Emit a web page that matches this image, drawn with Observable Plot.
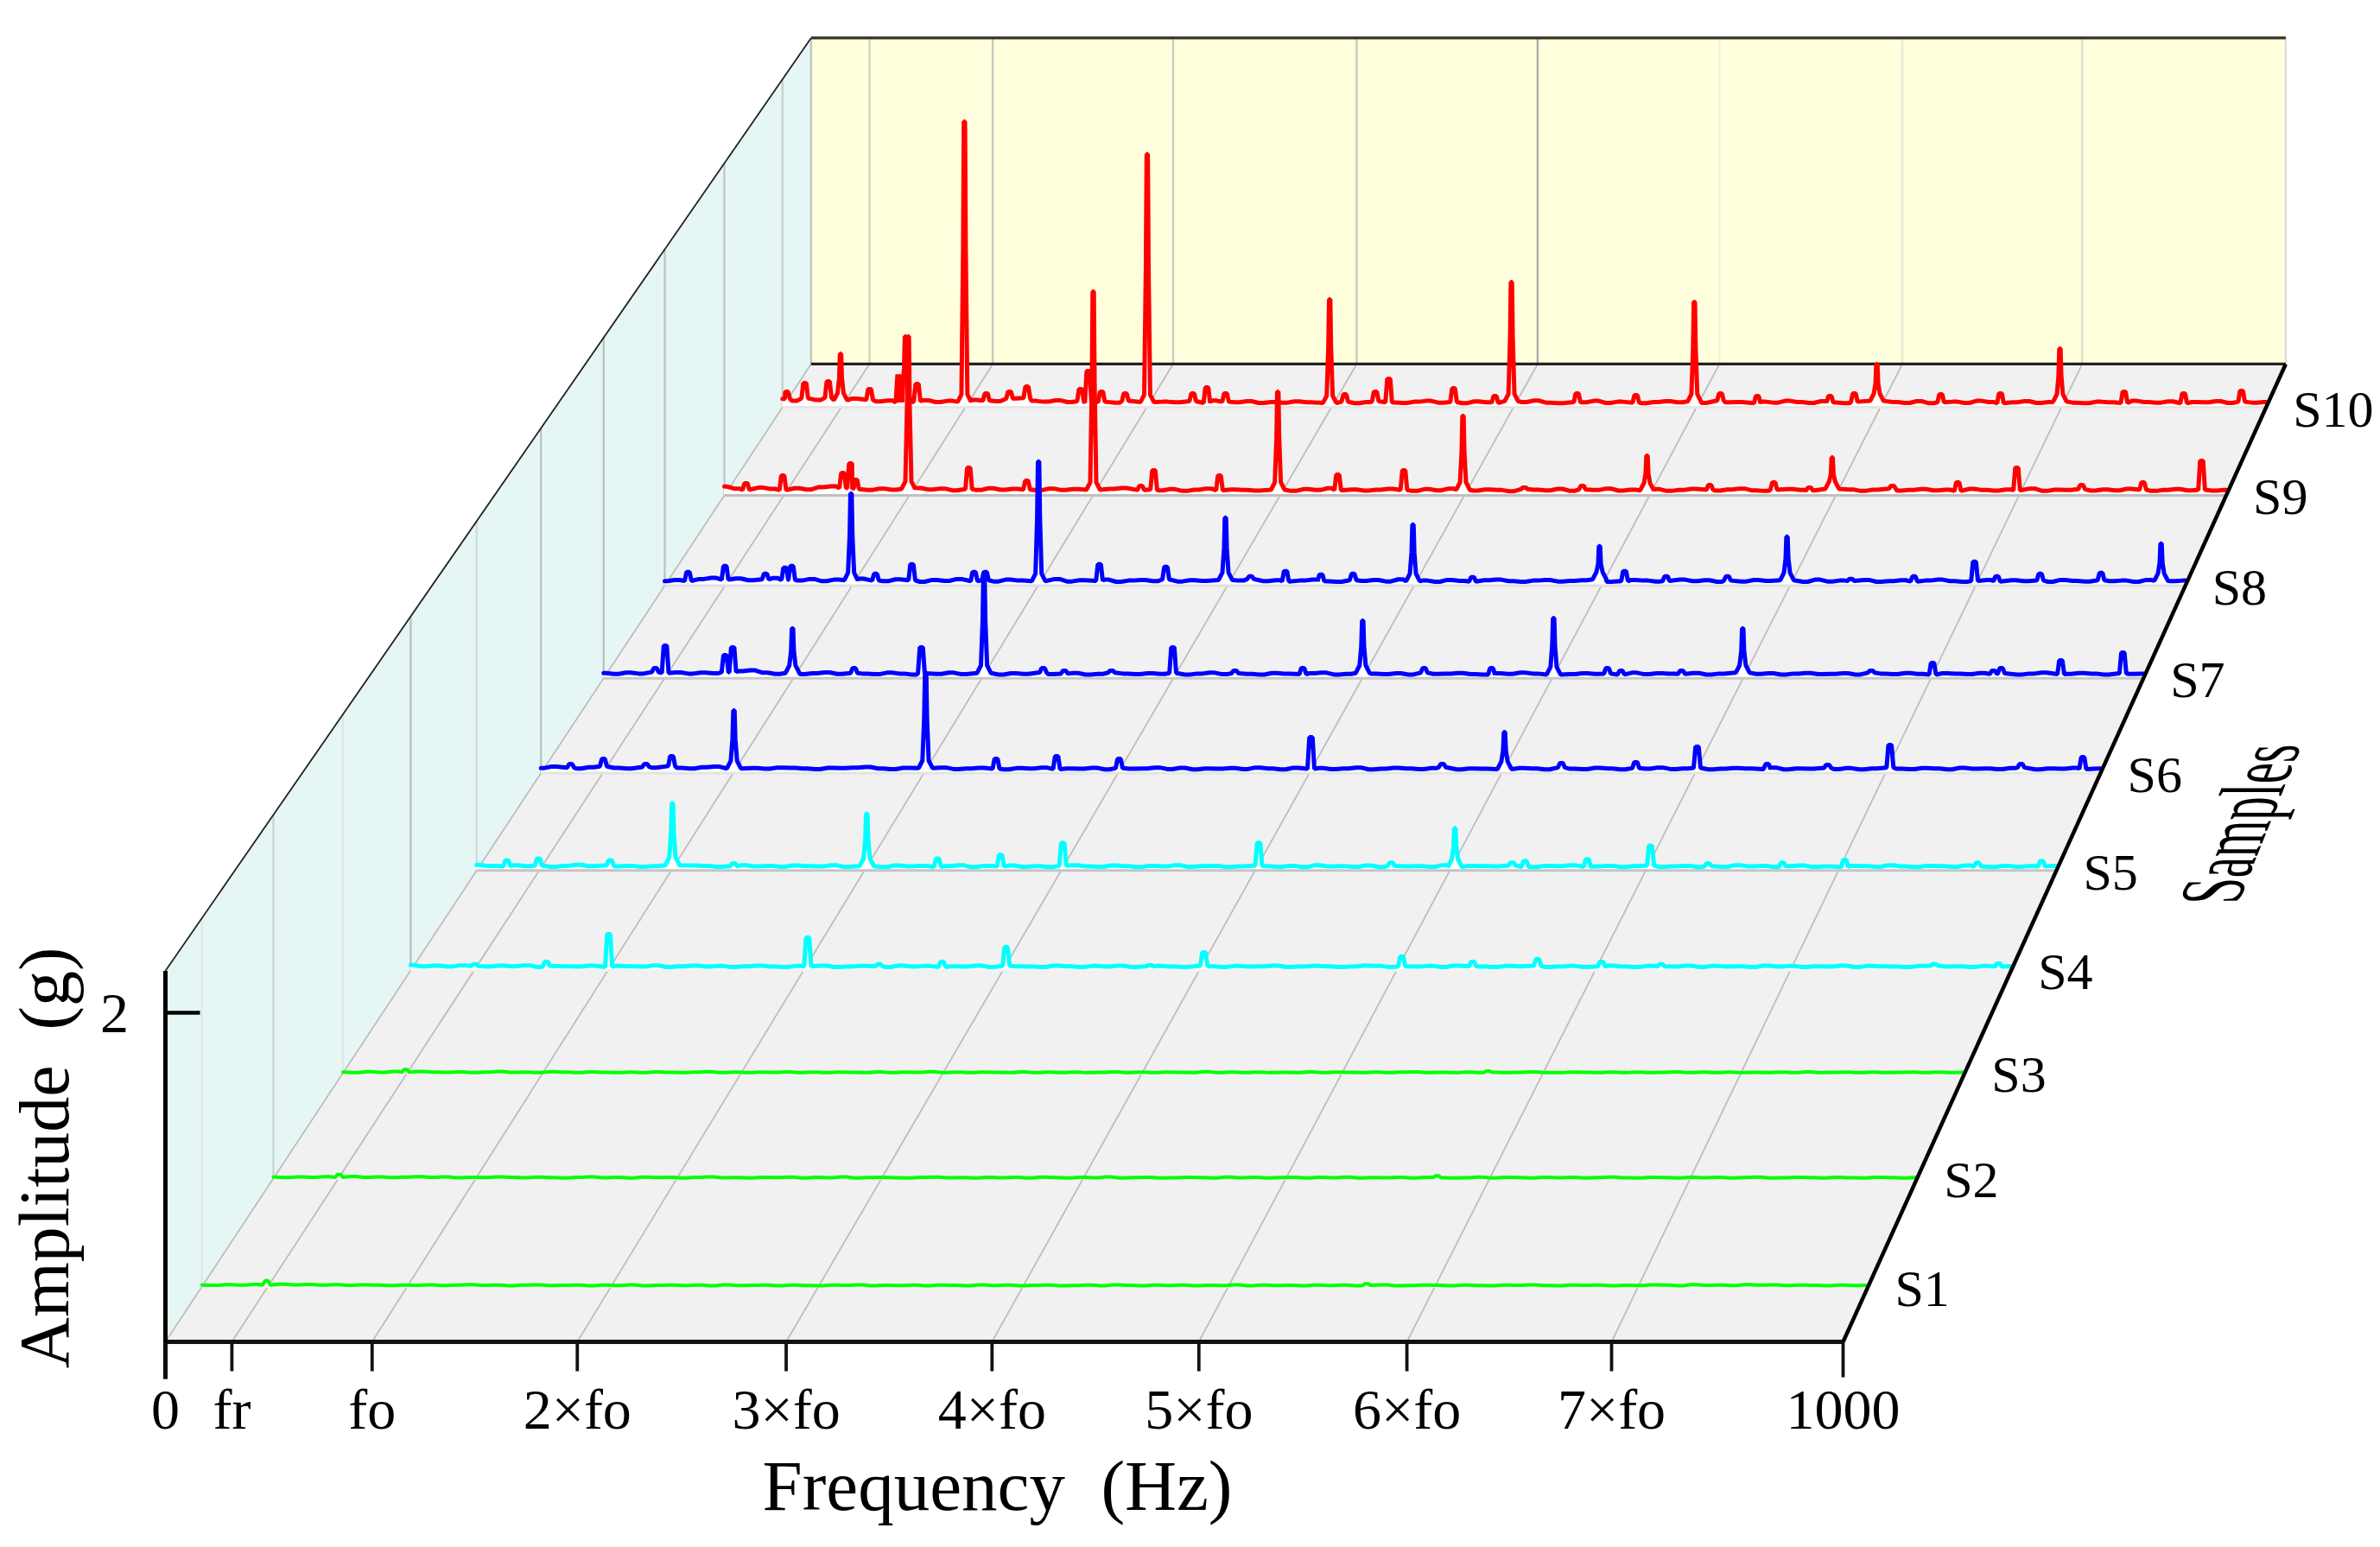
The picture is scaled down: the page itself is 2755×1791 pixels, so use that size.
<!DOCTYPE html>
<html>
<head>
<meta charset="utf-8">
<script src="https://cdn.jsdelivr.net/npm/d3@7"></script>
<script src="https://cdn.jsdelivr.net/npm/@observablehq/plot@0.6"></script>
<style>
html,body{margin:0;padding:0;background:#fff}
svg text{white-space:pre}
</style>
</head>
<body>
<div id="chart"></div>
<script>
// ---------- categories and tick labels ----------
const sampleNames = ["S1","S2","S3","S4","S5","S6","S7","S8","S9","S10"];
const tickLabels = ["0","fr","fo","2×fo","3×fo","4×fo","5×fo","6×fo","7×fo","1000"];
const tickFreqs = [0,39.6,123.2,245.5,370,492.7,616,740,862,1000];

// ---------- peaks: frequency (Hz), amplitude (g) ----------
const s10PeakF = [2.8,15,30.8,39.1,58.7,78.5,82.8,90.7,122.6,137.3,153,164.7,200.8,206,215,231,245.8,276.5,286,298.6,368.8,379,399.6,408.6,452.3,480.2,491.3,535.6,575.2,614.6,632.2,657,706,722.4,737.6,780.7,820.9,861,904.3,944.4,983.4];
const s10PeakA = [.107,.166,.178,.368,.125,.226,.487,.16,1.964,.095,.107,.142,.125,.249,.107,.095,1.739,.095,.136,.095,.742,.089,.107,.196,.131,.077,.861,.095,.083,.724,.095,.077,.077,.095,.297,.089,.095,.404,.107,.095,.113];
const s9PeakF = [14.4,38.9,78.8,84,87.4,122.5,162.7,201.3,245.6,277.3,285.9,329.6,368.5,408.4,452.4,491.8,532.6,571.2,614.3,656.1,698.7,722.5,737.6,777.7,821.2,860.5,903.7,944.5,983.6];
const s9PeakA = [.082,.135,.152,.217,.106,1.079,.188,.1,1.384,.065,.17,.135,.704,.141,.17,.54,.053,.065,.27,.07,.088,.053,.258,.065,.088,.188,.07,.088,.235];
const s8PeakF = [15.3,39.6,66.2,79,83.5,122.5,138.6,162.5,203.4,210.8,245.8,285.8,329.5,368.7,385.2,408.2,431.5,452.6,492,531.2,614.7,631.2,658.5,698.8,738,780,821.5,861.3,876,904.5,944.5,984];
const s8PeakA = [.091,.131,.079,.12,.131,.618,.079,.143,.091,.091,.832,.143,.126,.456,.062,.097,.074,.079,.409,.056,.265,.097,.062,.062,.328,.045,.062,.16,.062,.079,.085,.282];
const s7PeakF = [33.5,40,78.8,83.8,122.6,162.6,206.3,247,285.4,299.2,329.8,369.6,410,454,492.9,532.8,576.6,616.9,651.8,660.7,700,739.7,823.2,863,902.5,907.6,946.3,986.6];
const s7PeakA = [.066,.215,.152,.204,.33,.066,.204,.69,.066,.049,.049,.204,.049,.066,.381,.066,.066,.398,.066,.049,.049,.33,.049,.101,.049,.066,.118,.169];
const s6PeakF = [19,40,67.2,83.8,123.7,246.6,291.8,330.6,370.7,493.7,577.9,617.8,654.3,702,741.3,786.2,825,865,949,988.6];
const s6PeakA = [.059,.093,.059,.11,.409,.658,.093,.11,.093,.234,.059,.268,.065,.071,.172,.059,.054,.184,.059,.104];
const s5PeakF = [19.1,39.1,84.5,123.9,162.7,246.9,291.7,331.6,371,495,578.9,619.2,655.4,663.6,703,743,779.5,826.6,866,950,990.6];
const s5PeakA = [.066,.077,.066,.434,.044,.367,.077,.1,.178,.178,.05,.273,.05,.061,.072,.161,.044,.05,.069,.05,.061];
const s4PeakF = [40,84.8,123.7,248,292.6,332,372,461.9,495.6,619.2,663.5,704,744,781.2,952,992];
const s4PeakA = [.039,.055,.231,.209,.039,.055,.149,.033,.116,.088,.055,.072,.055,.039,.039,.044];
const s3PeakF = [38.6,706];
const s3PeakA = [.022,.012];
const s2PeakF = [40,708];
const s2PeakA = [.024,.016];
const s1PeakF = [38.8,699];
const s1PeakA = [.036,.018];

// ---------- noise floor read by eye, evenly spaced over 0-1000 Hz, in milli-g ----------
const s10Noise = [58,44,62,50,66,48,60,52,40,46,34,42,48,36,44,38,50,46,42,60,64,44,38,48,36,42,30,38,32,44,36,30,38,34,42,30,46,38,34,42,30,36,32,40,34,44,30,38,28,36,42,34,30,38,44,32,36,28,40,34,30,42,36,46,32,28,36,34,44,30,38,32,28,36,42,34,40,30,46,34,36,28,38,32,44,36,30,42,34,28,38,44,32,36,30,42,28,34,38,30,44,36,28,34,42,30,36,40,32,28,38,34,30,44,36,32,40,28,36,34,42,30,38,32,36];
const s9Noise = [60,46,38,52,44,36,48,40,56,62,50,42,36,46,38,44,50,40,46,34,42,36,48,38,44,40,34,46,36,42,38,32,44,50,36,40,34,42,30,38,46,34,40,36,32,44,38,30,42,36,48,34,40,32,38,44,36,30,42,34,46,38,32,40,36,28,42,38,34,44,30,40,36,46,32,38,34,42,30,36,44,38,32,40,46,34,30,38,42,36,32,44,34,40,30,38,46,32,36,42,34,38,30,44,36,32,40,34,46,30,38,36,42,32,40,34,44,38,30,36,42,34,38,32,36];
const s8Noise = [30,38,32,44,52,40,48,36,42,50,38,34,44,30,40,36,46,34,30,42,36,26,38,32,44,30,36,28,40,34,30,38,44,28,36,32,40,26,34,38,30,42,28,36,32,26,38,34,44,30,36,28,34,40,30,26,36,32,38,28,42,30,34,26,38,32,28,36,40,30,26,34,38,28,32,36,42,26,30,38,34,28,32,40,30,36,26,34,28,38,32,30,36,26,40,28,34,32,38,26,30,36,28,34,40,30,26,32,38,28,36,30,34,26,38,32,28,36,30,34,26,38,32,30,34];
const s7Noise = [34,28,36,30,40,34,38,30,36,32,40,46,52,36,28,34,26,32,38,28,34,30,26,36,30,24,32,28,36,26,30,34,24,32,28,38,26,30,34,24,28,36,30,26,32,28,34,24,30,36,26,32,28,24,34,30,26,32,36,24,28,34,30,26,32,24,36,28,30,34,26,24,32,28,36,30,24,34,26,32,28,30,24,36,26,32,30,28,34,24,30,26,36,28,32,24,30,34,26,28,32,24,36,30,26,34,28,24,32,30,26,34,28,32,24,30,36,26,28,34,30,24,32,28,30];
const s6Noise = [32,42,36,30,38,44,34,30,40,36,46,34,30,38,42,30,36,32,28,36,34,30,26,34,32,36,40,30,26,34,28,32,36,26,30,34,28,24,32,30,36,26,30,28,34,24,32,28,30,36,26,34,24,30,28,32,26,36,30,24,34,28,32,26,30,36,24,28,34,30,26,32,38,24,30,28,34,26,32,30,24,36,28,26,34,30,24,32,28,36,26,30,34,24,28,32,30,26,36,24,30,28,34,26,32,24,30,36,28,26,32,30,24,34,28,30,26,32,36,24,30,28,34,26,30];
const s5Noise = [36,30,26,34,28,32,24,30,36,28,34,26,30,24,28,34,26,32,30,24,28,34,26,30,24,32,28,26,34,24,30,28,22,32,26,30,24,28,34,22,30,26,32,24,28,22,30,34,26,24,32,28,22,30,26,34,24,28,30,22,26,32,28,24,30,22,34,26,28,24,32,22,30,26,28,24,34,22,30,28,26,32,24,22,30,28,34,24,26,30,22,28,32,24,26,30,22,28,24,34,26,30,22,28,32,24,26,22,30,28,24,34,26,22,30,28,24,32,26,22,30,24,28,26,30];
const s4Noise = [34,26,30,24,32,28,24,30,26,32,22,28,26,24,30,22,28,26,24,32,22,26,30,24,28,22,26,30,24,22,28,26,30,22,24,28,26,22,30,24,28,22,26,24,30,22,28,26,24,22,30,26,22,28,24,30,22,26,28,24,22,30,26,22,28,24,26,30,22,24,28,26,22,24,30,28,22,26,24,28,22,30,26,24,22,28,26,30,22,24,28,22,26,30,24,22,28,26,24,30,22,28,24,26,22,30,24,28,22,26,24,30,22,28,26,24,22,28,30,24,26,22,28,24,26];
const s3Noise = [6,3,8,4,9,5,10,6,4,7,3,6,9,4,6,3,8,5,3,7,4,2,6,3,7,4,2,6,8,3,5,2,6,4,7,3,5,2,6,4,3,7,2,5,4,8,3,5,2,6,4,3,7,2,5,3,6,2,4,7,3,5,2,6,4,3,8,2,5,3,6,2,4,3,7,2,5,4,3,6,2,5,7,3,4,2,6,3,5,2,4,7,3,2,6,4,3,5,2,6,3,4,7,2,5,3,6,2,4,3,5,2,7,3,4,6,2,5,3,4,6,2,5,3,4];
const s2Noise = [8,5,9,6,10,7,12,6,9,5,8,11,6,9,4,7,5,9,6,4,8,5,3,7,9,4,6,3,8,5,7,3,6,9,4,5,3,7,5,8,3,6,4,9,3,5,7,4,3,6,8,4,5,3,7,4,6,3,8,5,3,6,4,9,3,5,7,3,4,6,5,3,8,4,6,3,5,7,3,6,4,8,3,5,4,6,3,7,5,3,4,8,3,6,5,3,7,4,6,3,5,8,4,3,6,5,3,7,4,6,3,5,8,3,4,6,5,3,7,4,3,6,5,3,5];
const s1Noise = [10,8,12,9,13,10,15,11,14,9,12,8,11,9,7,10,8,11,7,9,12,8,10,6,9,11,7,8,10,6,9,7,11,6,8,10,7,9,6,11,7,8,10,6,9,7,6,10,8,11,6,8,7,10,6,9,8,6,11,7,9,6,8,10,6,7,9,6,11,8,6,9,7,10,6,8,7,11,6,9,7,8,6,10,7,9,6,8,11,6,7,9,8,6,10,7,6,9,8,11,7,6,9,8,10,6,8,7,11,9,6,12,8,10,7,12,9,11,7,10,8,6,9,7,8];

// ---------- one entry per sample, front to back ----------
const sampleSeries = [
  {f:s1PeakF,a:s1PeakA,n:s1Noise,color:"#00ff00",sw:4,base:"#f1f1f1"},
  {f:s2PeakF,a:s2PeakA,n:s2Noise,color:"#00ff00",sw:4,base:"#f1f1f1"},
  {f:s3PeakF,a:s3PeakA,n:s3Noise,color:"#00ff00",sw:4,base:"#f1f1f1"},
  {f:s4PeakF,a:s4PeakA,n:s4Noise,color:"#00ffff",sw:5,base:"#f1f1f1"},
  {f:s5PeakF,a:s5PeakA,n:s5Noise,color:"#00ffff",sw:5,base:"#c4c4c4"},
  {f:s6PeakF,a:s6PeakA,n:s6Noise,color:"#0000ff",sw:5,base:"#e4e4e4"},
  {f:s7PeakF,a:s7PeakA,n:s7Noise,color:"#0000ff",sw:5,base:"#c8c8c8"},
  {f:s8PeakF,a:s8PeakA,n:s8Noise,color:"#0000ff",sw:5,base:"#e0e0e0"},
  {f:s9PeakF,a:s9PeakA,n:s9Noise,color:"#ff0000",sw:5,base:"#c0c0c0"},
  {f:s10PeakF,a:s10PeakA,n:s10Noise,color:"#ff0000",sw:5,base:"#e6e6e6"}
];

// ---------- the projection: frequency, depth and amplitude to picture coordinates ----------
const persp = d => 1/(1+0.1377*d);
const px = (f,d) => 6366 + (191 + f*1.942 - 6366)*persp(d);
const py = (d,a=0) => -7800 + (9353 - 190.5*a)*persp(d);
const depthOf = i => (i+0.5)/10;
const AMAX = 2.255;

function spectrum(s){
  const nearest = f => s.n[Math.round(f/1000*(s.n.length-1))]/1000;
  const pts = [];
  s.f.forEach((f,k)=>{
    const a = s.a[k], b = nearest(f);
    if (a > .25) {
      [[-4.5,b],[-2,b+.05],[-.9,a*.55],[-.4,a],[.4,a],[.9,a*.55],[2,b+.05],[4.5,b]].forEach(([df,v])=>pts.push({f:f+df,a:v}));
    } else {
      [[-2.2,b],[-1,a],[1,a],[2.2,b]].forEach(([df,v])=>pts.push({f:f+df,a:v}));
    }
  });
  s.n.forEach((v,k)=>{
    const f = k/(s.n.length-1)*1000;
    const clash = s.f.some((pf,j)=>Math.abs(pf-f) < (s.a[j]>.25?6:4));
    if(!clash || k===0 || k===s.n.length-1) {
      pts.push({f:f-1.6,a:v/1000});
      pts.push({f:f+1.6,a:v/1000});
    }
  });
  const inside = pts.filter(p=>p.f>=0&&p.f<=1000);
  inside.push({f:0,a:s.n[0]/1000},{f:1000,a:s.n[s.n.length-1]/1000});
  return inside.sort((p,q)=>p.f-q.f);
}

const serif = "Liberation Serif";
const marks = [];

// walls and floor
marks.push(Plot.area([0,1],{x1:d=>px(0,d),y1:d=>py(d),x2:d=>px(1000,d),y2:d=>py(d),fill:"#f1f1f1"}));
marks.push(Plot.area([0,1],{x1:d=>px(0,d),y1:d=>py(d),x2:d=>px(0,d),y2:d=>py(d,AMAX),fill:"#e5f6f5"}));
marks.push(Plot.area([0,1000],{x1:f=>px(f,1),y1:py(1),x2:f=>px(f,1),y2:py(1,AMAX),fill:"#ffffdd"}));

// grid: floor, back wall, left wall
const backGridColors = ["#c4c4c4","#d2d2c8","#c8c8c0","#cccccc","#c8c8c0","#aeaeae","#f2f2d8","#e8e8d8","#dedecc","#dddddd"];
const wallGridColors = ["#dde8e8","#c8d4d4","#dde8e8","#b8bcbc","#d0d8d8","#bcc0c0","#bcbebe","#c0c0c0","#c0c4c4","#c8cccc"];
marks.push(Plot.link(tickFreqs.slice(0,-1),{x1:f=>px(f,0),y1:py(0),x2:f=>px(f,1),y2:py(1),stroke:"#bdbdbd",strokeWidth:1.8}));
marks.push(Plot.link(tickFreqs,{x1:f=>px(f,1),y1:py(1),x2:f=>px(f,1),y2:py(1,AMAX),stroke:(f,i)=>backGridColors[i],strokeWidth:2.4}));
marks.push(Plot.link(sampleNames,{x1:(n,i)=>px(0,depthOf(i)),y1:(n,i)=>py(depthOf(i)),x2:(n,i)=>px(0,depthOf(i)),y2:(n,i)=>py(depthOf(i),AMAX),stroke:(n,i)=>wallGridColors[i],strokeWidth:2.2}));

// frame lines of the back wall
marks.push(Plot.link([0],{x1:px(0,1),y1:py(1,AMAX),x2:px(1000,1),y2:py(1,AMAX),stroke:"#333328",strokeWidth:3.2}));
marks.push(Plot.link([0],{x1:px(0,1),y1:py(1),x2:px(1000,1),y2:py(1),stroke:"#222",strokeWidth:3.2}));

// spectra, back to front
for (let i=sampleSeries.length-1;i>=0;i--){
  const s = sampleSeries[i], d = depthOf(i), pts = spectrum(s);
  marks.push(Plot.area(pts,{x1:p=>px(p.f,d),y1:py(d),x2:p=>px(p.f,d),y2:p=>py(d,p.a),fill:"#ffffff"}));
  marks.push(Plot.link([0],{x1:px(0,d),y1:py(d),x2:px(1000,d),y2:py(d),stroke:s.base,strokeWidth:3}));
  marks.push(Plot.line(pts,{x:p=>px(p.f,d),y:p=>py(d,p.a),stroke:s.color,strokeWidth:s.sw,strokeLinejoin:"bevel"}));
}

// axes
marks.push(Plot.link([0],{x1:px(0,0),y1:py(0,AMAX),x2:px(0,1),y2:py(1,AMAX),stroke:"#222",strokeWidth:1.8}));
marks.push(Plot.link([0],{x1:px(1000,0),y1:py(0),x2:px(1000,1),y2:py(1),stroke:"#000",strokeWidth:4.5}));
marks.push(Plot.link([0],{x1:px(0,0),y1:py(0),x2:px(1000,0),y2:py(0),stroke:"#111",strokeWidth:5}));
marks.push(Plot.link([0],{x1:px(0,0),y1:py(0,AMAX),x2:px(0,0),y2:py(0)+43,stroke:"#000",strokeWidth:5}));
marks.push(Plot.link([2],{x1:px(0,0),y1:a=>py(0,a),x2:px(0,0)+40,y2:a=>py(0,a),stroke:"#000",strokeWidth:4.5}));
marks.push(Plot.link(tickFreqs,{x1:f=>px(f,0),y1:py(0),x2:f=>px(f,0),y2:(f,i)=>py(0)+((i===0||i===tickFreqs.length-1)?41:34),stroke:"#111",strokeWidth:3.8}));

// axis text
const tickText = {fontFamily:serif,fontSize:66,fill:"#000",lineAnchor:"bottom"};
marks.push(Plot.text(tickLabels,{x:(t,i)=>px(tickFreqs[i],0),y:py(0)+100,text:t=>t,textAnchor:"middle",...tickText}));
marks.push(Plot.text(["2"],{x:px(0,0)-59,y:py(0,2)+22,text:t=>t,textAnchor:"middle",...tickText}));
marks.push(Plot.text(sampleNames,{x:(n,i)=>px(1000,depthOf(i))+31,y:(n,i)=>py(depthOf(i))+22,text:n=>n,textAnchor:"start",fontFamily:serif,fontSize:60,fill:"#000",lineAnchor:"bottom"}));
marks.push(Plot.text(["Frequency  (Hz)"],{x:1154,y:1747,text:t=>t,textAnchor:"middle",fontFamily:serif,fontSize:83,fill:"#000",lineAnchor:"bottom"}));
marks.push(Plot.text(["Amplitude  (g)"],{x:78,y:1340,text:t=>t,textAnchor:"middle",rotate:-90,fontFamily:serif,fontSize:82,fill:"#000",lineAnchor:"bottom"}));
marks.push(Plot.text(["Samples"],{x:2593,y:1043,text:t=>t,textAnchor:"start",fontFamily:serif,fontSize:58,fill:"#000",lineAnchor:"bottom"}));

const chart = Plot.plot({
  width:2755,height:1791,margin:0,
  style:{background:"#fff"},
  x:{axis:null,domain:[0,2755],range:[0,2755]},
  y:{axis:null,domain:[0,1791],range:[0,1791]},
  marks
});
// the label along the depth axis is sheared with the plane it lies on
chart.querySelectorAll("text").forEach(t=>{
  if(t.textContent==="Samples") t.setAttribute("transform","matrix(0.375,-0.94,1.8,0,2590,1046)");
});
document.getElementById("chart").appendChild(chart);
</script>
</body>
</html>
